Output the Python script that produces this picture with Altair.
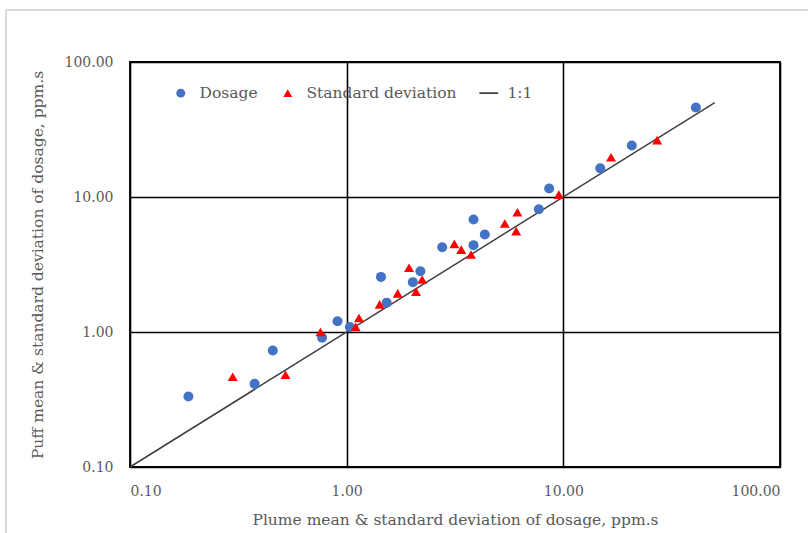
import altair as alt
import pandas as pd

# Dosage (blue circles)
dosage_plume = [0.186, 0.376, 0.456, 0.77, 0.907, 1.035, 1.44, 1.53, 2.02, 2.19,
                2.76, 3.85, 3.85, 4.34, 7.71, 8.60, 14.8, 20.7, 40.9]
dosage_puff = [0.333, 0.413, 0.73, 0.906, 1.20, 1.09, 2.56, 1.65, 2.34, 2.82,
               4.25, 6.81, 4.40, 5.27, 8.12, 11.56, 16.3, 24.1, 46.0]

# Standard deviation (red triangles)
std_plume = [0.298, 0.522, 0.757, 1.10, 1.14, 1.42, 1.72, 1.94, 2.09, 2.23,
             3.14, 3.38, 3.75, 5.37, 6.06, 6.14, 9.53, 16.6, 27.1]
std_puff = [0.466, 0.482, 1.0, 1.09, 1.27, 1.60, 1.93, 2.99, 1.99, 2.45,
            4.50, 4.08, 3.75, 6.36, 5.58, 7.71, 10.4, 19.7, 26.4]

# 1:1 line
line_x = [0.1, 50]
line_y = [0.1, 50]

series_names = ["Dosage", "Standard deviation", "1:1"]
series_colors = ["#4472C4", "#FF0000", "#262626"]
series_shapes = ["circle", "triangle-up", "M-2.1,-0.17H2.1V0.17H-2.1Z"]
tick_values = [0.1, 1, 10, 100]

FONT = "DejaVu Serif"
GRAY = "#595959"

pts = pd.concat([
    pd.DataFrame({"x": dosage_plume, "y": dosage_puff, "series": "Dosage"}),
    pd.DataFrame({"x": std_plume, "y": std_puff, "series": "Standard deviation"}),
])
line_df = pd.DataFrame({"x": line_x, "y": line_y})

xscale = alt.Scale(type="log", domain=[0.1, 100], nice=False)
yscale = alt.Scale(type="log", domain=[0.1, 100], nice=False)

xaxis = alt.Axis(values=tick_values, format=".2f", title="Plume mean & standard deviation of dosage, ppm.s",
                 grid=True, ticks=False, domain=False, labelPadding=17, titlePadding=14)
yaxis = alt.Axis(values=tick_values, format=".2f", title="Puff mean & standard deviation of dosage, ppm.s",
                 grid=True, ticks=False, domain=False, labelPadding=17, titlePadding=19)

legend = alt.Legend(
    title=None, orient="none", direction="horizontal", legendX=43, legendY=23,
    labelFont=FONT, labelFontSize=15.5, labelColor=GRAY, labelOffset=11,
    columnPadding=22, symbolSize=80,
)

line = alt.Chart(line_df).mark_line(color="#404040", strokeWidth=1.5).encode(
    x=alt.X("x:Q", scale=xscale, axis=xaxis),
    y=alt.Y("y:Q", scale=yscale, axis=yaxis),
)

points = alt.Chart(pts).mark_point(filled=True, opacity=1, size=100).encode(
    x=alt.X("x:Q", scale=xscale, axis=xaxis),
    y=alt.Y("y:Q", scale=yscale, axis=yaxis),
    color=alt.Color("series:N", scale=alt.Scale(domain=series_names, range=series_colors), legend=legend),
    shape=alt.Shape("series:N", scale=alt.Scale(domain=series_names, range=series_shapes), legend=legend),
)

border_top = alt.Chart(line_df).mark_rule(color="#d9d9d9", strokeWidth=2).encode(
    x=alt.value(-124), x2=alt.value(700), y=alt.value(-52))
border_left = alt.Chart(line_df).mark_rule(color="#d9d9d9", strokeWidth=2).encode(
    x=alt.value(-124), y=alt.value(-52), y2=alt.value(500))

chart = alt.layer(border_top, border_left, line, points).properties(
    width=650, height=405,
    autosize=alt.AutoSizeParams(type="none"),
    padding={"left": 130, "top": 62, "right": 28, "bottom": 66},
    background="white",
).configure_view(
    stroke="black", strokeWidth=1.8,
).configure_axis(
    gridColor="black", gridWidth=1.6, gridOpacity=1,
    labelFont=FONT, labelFontSize=14, labelColor=GRAY,
    titleFont=FONT, titleFontSize=15.5, titleColor=GRAY, titleFontWeight="normal",
)

chart.save("out.html", embed_options={"renderer": "svg", "actions": False})
